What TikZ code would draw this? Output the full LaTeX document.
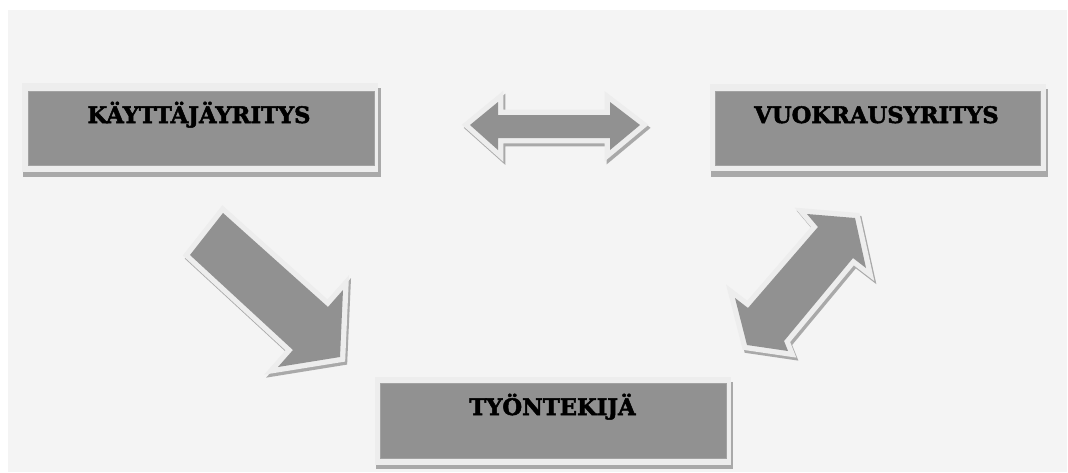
\documentclass[tikz,border=0pt]{standalone}
\usepackage{fontspec}
\setmainfont{DejaVu Serif}[BoldFeatures={FakeBold=2.2}]
\definecolor{bgc}{HTML}{F4F4F4}
\definecolor{ringc}{HTML}{EDEDED}
\definecolor{shadc}{HTML}{A9A9A9}
\definecolor{fillc}{HTML}{919191}
\newcommand\hArrowPath{(470,125) -- (498,102) -- (498,115) -- (610,115) -- (610,102) -- (640,125) -- (610,150) -- (610,138) -- (498,138) -- (498,150) -- cycle}
\newcommand\dArrowPath{(223,213) -- (328,307) -- (343,290) -- (340,357) -- (278,367) -- (293,350) -- (190,255) -- cycle}
\newcommand\uArrowPath{(855,218) -- (866,268) -- (853,258) -- (784,341) -- (788,351) -- (747,345) -- (735,298) -- (748,308) -- (818,227) -- (807,214) -- cycle}
\begin{document}
\begin{tikzpicture}[x=0.75pt,y=-0.75pt,
  boxshadow/.style={fill=shadc},
  boxring/.style={fill=ringc},
  boxbody/.style={fill=fillc, draw=fillc!85!white, line width=0.4pt, inner sep=0pt},
  boxlabel/.style={anchor=base, inner sep=0pt, font=\bfseries\fontsize{17}{20}\selectfont, text=black},
  arrowshadow/.style={fill=shadc, draw=shadc, line width=8pt, line join=miter},
  arrowring/.style={fill=ringc, draw=ringc, line width=8pt, line join=miter},
  arrowbody/.style={fill=fillc}]
\useasboundingbox (0,0) rectangle (1068,472);
\fill[white] (0,0) rectangle (1068,472);
\fill[bgc] (8,10) rectangle (1067,472);

% box 1
\fill[boxshadow] (23,88) rectangle (381,177);
\fill[boxring] (22,83) rectangle (378,172);
\node[boxbody, minimum width=259.5pt, minimum height=55.5pt] (b1) at (201,128) {};
\node[boxlabel] (t1) at (199,123) {KÄYTTÄJÄYRITYS};

% box 2
\fill[boxshadow] (711,89) rectangle (1048,177);
\fill[boxring] (710,84) rectangle (1046,171);
\node[boxbody, minimum width=243.75pt, minimum height=55.5pt] (b2) at (877.5,128) {};
\node[boxlabel] (t2) at (876.5,123) {VUOKRAUSYRITYS};

% box 3
\fill[boxshadow] (376,382) rectangle (733,469);
\fill[boxring] (375,377) rectangle (731,465);
\node[boxbody, minimum width=259.5pt, minimum height=56.25pt] (b3) at (553,420.5) {};
\node[boxlabel] (t3) at (552.5,415) {TYÖNTEKIJÄ};

% horizontal double arrow
\path[arrowshadow, shift={(2,3)}] \hArrowPath;
\path[arrowring] \hArrowPath;
\path[arrowbody] \hArrowPath;

% down-right arrow
\path[arrowshadow, shift={(2,3)}] \dArrowPath;
\path[arrowring] \dArrowPath;
\path[arrowbody] \dArrowPath;

% diagonal double arrow
\path[arrowshadow, shift={(2,3)}] \uArrowPath;
\path[arrowring] \uArrowPath;
\path[arrowbody] \uArrowPath;
\end{tikzpicture}
\end{document}
